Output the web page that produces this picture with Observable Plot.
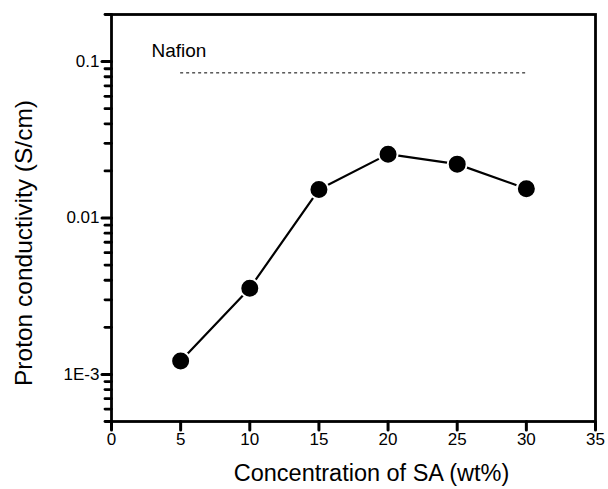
<!DOCTYPE html>
<html>
<head>
<meta charset="utf-8">
<script src="https://cdn.jsdelivr.net/npm/d3@7"></script>
<script src="https://cdn.jsdelivr.net/npm/@observablehq/plot@0.6"></script>
<style>
  html, body { margin: 0; padding: 0; background: white; }
</style>
</head>
<body>
<div id="chart"></div>
<script>
// ---- data ----
const concentration = [5, 10, 15, 20, 25, 30];
const conductivity = [0.00122, 0.00356, 0.0152, 0.0256, 0.0221, 0.0154];
const nafionValue = 0.0847;
const nafionRange = [5, 30];
const nafionLabel = "Nafion";
const xTicks = [0, 5, 10, 15, 20, 25, 30, 35];
const yTicks = [0.001, 0.01, 0.1];
const yTickLabels = ["1E-3", "0.01", "0.1"];
const xLabel = "Concentration of SA (wt%)";
const yLabel = "Proton conductivity (S/cm)";

// ---- derived ----
const data = concentration.map((c, i) => ({x: c, y: conductivity[i]}));
const yDomain = [5e-4, 0.2];
const minorTicks = [];
for (const d of [1e-4, 1e-3, 1e-2, 1e-1]) {
  for (let k = 2; k <= 9; k++) {
    const v = k * d;
    if (v >= yDomain[0] * 0.999 && v <= yDomain[1] * 1.001) minorTicks.push(v);
  }
}

const font = "'Liberation Sans', Arial, Helvetica, sans-serif";
// a plain line segment used as tick shape
const tickShape = {draw(context, l) { context.moveTo(0, 0); context.lineTo(0, -l); }};

const chart = Plot.plot({
  width: 608,
  height: 489,
  marginLeft: 111,
  marginRight: 13,
  marginTop: 14,
  marginBottom: 68,
  style: {fontFamily: font, fontSize: "17px", background: "white", color: "black"},
  x: {domain: [0, 35], axis: null},
  y: {type: "log", domain: yDomain, axis: null},
  marks: [
    Plot.ruleY([nafionValue], {x1: nafionRange[0], x2: nafionRange[1], stroke: "black", strokeWidth: 1, strokeDasharray: "3,3"}),
    Plot.line(data, {x: "x", y: "y", stroke: "black", strokeWidth: 2.2}),
    Plot.dot(data, {x: "x", y: "y", r: 9.5, fill: "black", stroke: "white", strokeWidth: 2}),
    // y minor ticks
    Plot.vector(minorTicks, {y: d => d, frameAnchor: "left", length: 6.5, rotate: -90, anchor: "start", shape: tickShape, stroke: "black", strokeWidth: 2.8}),
    // y major ticks
    Plot.vector(yTicks, {y: d => d, frameAnchor: "left", length: 9.5, rotate: -90, anchor: "start", shape: tickShape, stroke: "black", strokeWidth: 3}),
    // x ticks
    Plot.vector(xTicks, {x: d => d, frameAnchor: "bottom", length: 8.5, rotate: 180, anchor: "start", shape: tickShape, stroke: "black", strokeWidth: 3}),
    // tick labels
    Plot.text(yTicks, {y: d => d, text: (d, i) => yTickLabels[i], frameAnchor: "left", dx: -12, textAnchor: "end", lineAnchor: "middle", fontSize: 17}),
    Plot.text(xTicks, {x: d => d, text: d => String(d), frameAnchor: "bottom", dy: 18, textAnchor: "middle", lineAnchor: "middle", fontSize: 17}),
    Plot.frame({stroke: "black", strokeWidth: 2.8}),
    Plot.text([nafionLabel], {text: d => d, frameAnchor: "top-left", dx: 40, dy: 36, textAnchor: "start", lineAnchor: "middle", fontSize: 19}),
    Plot.text([xLabel], {text: d => d, frameAnchor: "bottom", dx: 18, dy: 52, textAnchor: "middle", lineAnchor: "middle", fontSize: 23.5}),
    Plot.text([yLabel], {text: d => d, frameAnchor: "left", rotate: -90, dx: -87, dy: 25, textAnchor: "middle", lineAnchor: "middle", fontSize: 24.5})
  ]
});
document.getElementById("chart").appendChild(chart);
</script>
</body>
</html>
